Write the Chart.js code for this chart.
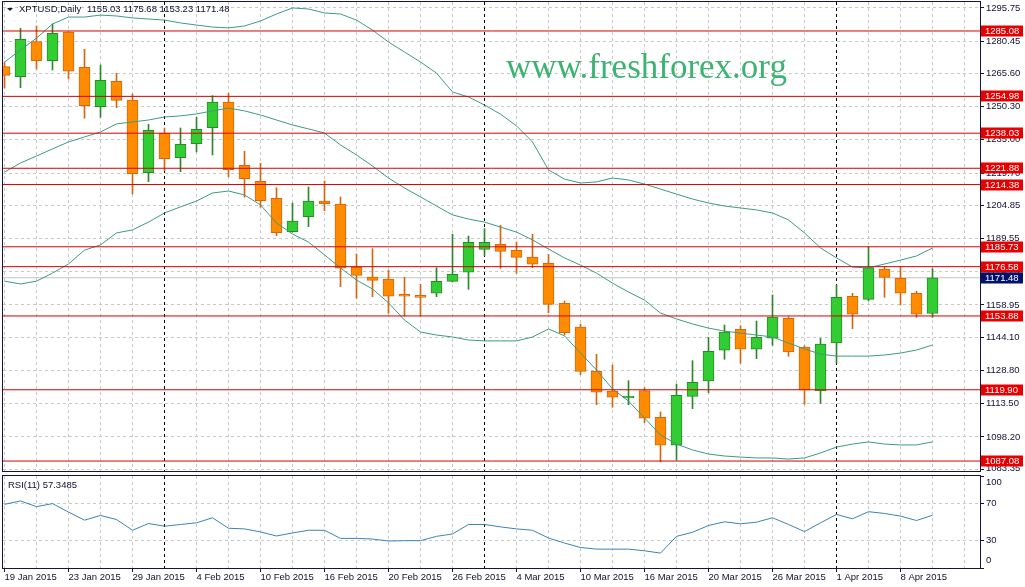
<!DOCTYPE html>
<html>
<head>
<meta charset="utf-8">
<script src="https://cdn.jsdelivr.net/npm/chart.js@4.4.0/dist/chart.umd.min.js"></script>
<style>
    html, body { margin: 0; padding: 0; background: #fff; }
    #wrap { position: relative; width: 1025px; height: 587px; overflow: hidden; background: #fff; }
    #main { position: absolute; left: 0; top: 0; }
    #rsi { position: absolute; left: 0; top: 472px; }
</style>
</head>
<body>
<div id="wrap">
    <canvas id="main" width="1025" height="472"></canvas>
    <canvas id="rsi" width="1025" height="115"></canvas>
</div>
<script>
// XPTUSD daily bars
const dates = ['19 Jan 2015','20 Jan 2015','21 Jan 2015','22 Jan 2015','23 Jan 2015','26 Jan 2015','27 Jan 2015','28 Jan 2015','29 Jan 2015','30 Jan 2015',
    '2 Feb 2015','3 Feb 2015','4 Feb 2015','5 Feb 2015','6 Feb 2015','9 Feb 2015','10 Feb 2015','11 Feb 2015','12 Feb 2015','13 Feb 2015',
    '16 Feb 2015','17 Feb 2015','18 Feb 2015','19 Feb 2015','20 Feb 2015','23 Feb 2015','24 Feb 2015','25 Feb 2015','26 Feb 2015','27 Feb 2015',
    '2 Mar 2015','3 Mar 2015','4 Mar 2015','5 Mar 2015','6 Mar 2015','9 Mar 2015','10 Mar 2015','11 Mar 2015','12 Mar 2015','13 Mar 2015',
    '16 Mar 2015','17 Mar 2015','18 Mar 2015','19 Mar 2015','20 Mar 2015','23 Mar 2015','24 Mar 2015','25 Mar 2015','26 Mar 2015','27 Mar 2015',
    '30 Mar 2015','31 Mar 2015','1 Apr 2015','2 Apr 2015','6 Apr 2015','7 Apr 2015','8 Apr 2015','9 Apr 2015','10 Apr 2015'];

const open = [1268.64,1264.04,1280.15,1271.41,1284.62,1268.37,1250.23,1261.92,1253.31,1219.84,
    1237.98,1226.75,1233.19,1240.56,1252.39,1223.25,1215.88,1208.05,1192.68,1199.58,
    1206.81,1205.43,1176.29,1171.82,1170.90,1163.40,1163.07,1164.32,1169.84,1173.99,
    1184.57,1186.88,1184.11,1181.03,1178.13,1159.71,1148.80,1128.40,1119.34,1116.12,
    1119.48,1107.23,1094.34,1116.89,1123.94,1138.08,1147.74,1138.54,1143.60,1152.81,
    1139.59,1119.34,1141.43,1162.94,1161.55,1175.50,1171.22,1164.32,1155.03];
const high = [1270.81,1286.32,1287.38,1288.30,1284.76,1276.65,1269.43,1265.61,1256.07,1242.13,
    1240.42,1240.42,1245.35,1255.29,1256.40,1229.69,1224.17,1212.94,1205.89,1213.26,
    1216.02,1208.65,1182.41,1184.85,1175.04,1171.68,1168.46,1176.10,1191.48,1190.70,
    1194.06,1195.63,1187.94,1191.48,1182.27,1160.77,1150.18,1136.23,1131.31,1124.08,
    1120.86,1109.67,1122.56,1133.28,1144.06,1149.72,1149.40,1151.56,1163.53,1153.54,
    1140.19,1143.60,1168.14,1164.32,1185.77,1176.56,1176.56,1165.24,1175.68];
const low = [1258.84,1258.98,1267.58,1267.12,1262.98,1244.89,1245.35,1249.77,1210.03,1215.70,
    1220.76,1220.30,1229.37,1227.99,1218.00,1208.52,1203.91,1190.84,1192.40,1194.98,
    1202.35,1167.36,1162.02,1162.76,1155.11,1153.87,1153.87,1162.76,1169.52,1166.16,
    1181.63,1175.83,1173.53,1176.10,1155.39,1145.12,1126.84,1113.03,1111.83,1113.03,
    1104.74,1086.78,1087.56,1111.19,1118.55,1133.93,1132.09,1134.21,1140.38,1135.31,
    1113.21,1113.67,1132.09,1148.02,1160.77,1162.47,1158.93,1153.27,1153.23];
const close = [1264.68,1281.26,1271.41,1284.02,1266.53,1250.69,1262.38,1253.17,1219.38,1239.36,
    1226.29,1232.92,1239.82,1252.39,1221.22,1217.08,1206.95,1192.22,1197.60,1206.81,
    1205.57,1175.83,1172.60,1170.30,1162.94,1162.94,1162.47,1169.84,1173.06,1187.80,
    1187.80,1183.65,1180.89,1177.67,1159.25,1146.18,1128.40,1118.74,1116.44,1117.03,
    1106.77,1094.34,1117.36,1123.34,1137.61,1146.50,1138.54,1144.06,1153.41,1137.29,
    1119.80,1140.97,1162.47,1154.65,1176.10,1171.68,1164.32,1154.65,1171.48];

// Bollinger bands
const bbUpper = [1270.8,1276.3,1281.8,1288.3,1291.5,1291.5,1292.4,1292.0,1291.1,1290.6,
    1290.1,1288.8,1287.8,1286.9,1286.5,1287.4,1289.7,1292.9,1295.7,1295.2,
    1293.4,1292.9,1290.1,1285.5,1280.0,1275.4,1270.8,1265.7,1257.0,1254.7,
    1251.0,1246.8,1241.4,1234.0,1221.1,1216.9,1215.1,1215.6,1217.4,1216.5,
    1214.6,1212.3,1210.0,1207.7,1205.9,1204.5,1203.6,1202.7,1201.3,1198.1,
    1192.1,1185.2,1180.6,1176.4,1176.0,1177.8,1179.6,1181.5,1185.2];
const bbMiddle = [1220.1,1224.3,1227.5,1230.8,1234.0,1236.3,1238.6,1242.3,1243.2,1244.1,
    1245.5,1246.0,1246.9,1248.3,1249.6,1248.3,1246.4,1244.1,1241.8,1240.0,
    1238.1,1232.6,1228.0,1222.9,1217.4,1212.8,1208.7,1204.5,1200.4,1198.5,
    1197.1,1194.8,1192.5,1188.9,1184.7,1180.6,1177.3,1173.6,1169.0,1164.9,
    1161.2,1155.2,1152.5,1150.2,1148.3,1146.9,1146.0,1145.1,1144.2,1141.4,
    1138.7,1136.3,1135.4,1135.4,1135.4,1135.9,1136.8,1138.2,1140.5];
const bbLower = [1169.9,1168.6,1169.9,1173.6,1177.8,1184.2,1186.6,1192.1,1193.5,1197.1,
    1201.3,1204.1,1206.8,1210.5,1211.4,1209.6,1205.0,1196.7,1191.6,1187.9,
    1182.0,1176.0,1170.4,1166.3,1159.9,1152.0,1146.5,1145.1,1144.2,1142.8,
    1142.4,1142.4,1142.4,1144.2,1147.9,1144.7,1136.8,1129.0,1120.3,1114.7,
    1106.9,1099.1,1094.9,1092.2,1090.3,1089.4,1088.9,1088.5,1088.5,1088.0,
    1088.5,1090.8,1093.5,1094.9,1095.9,1094.9,1094.5,1094.5,1095.9];

// RSI(11)
const rsi = [69.2,72.9,66.7,70.0,60.8,52.0,57.1,52.7,41.0,48.4,
    45.4,47.3,49.1,54.6,43.2,42.5,39.2,34.8,38.1,41.0,
    41.0,32.2,32.2,31.5,29.3,29.7,29.7,34.4,37.0,47.3,
    47.3,44.7,42.5,41.0,32.6,27.1,22.3,20.5,20.5,20.5,
    18.7,16.2,34.4,38.8,46.2,50.2,48.0,49.8,54.6,47.3,
    39.6,49.1,58.2,53.5,61.2,59.3,56.4,51.6,57.35];
const rsiLast = 57.3485;

// horizontal levels and axis ticks
const levels = [1285.08, 1254.98, 1238.03, 1221.88, 1214.38, 1185.73, 1176.58, 1153.88, 1119.90, 1087.08];
const priceTicks = [1295.75, 1280.45, 1265.60, 1250.30, 1235.00, 1219.70, 1204.85, 1189.55, 1174.25, 1158.95, 1144.10, 1128.80, 1113.50, 1098.20, 1083.35];
const rsiTicks = [100, 70, 30, 0];

const Y_MIN = 1082.50, Y_MAX = 1298.43;
const X_MIN = -0.09375, X_MAX = 60.96875;

const GREEN = '#32cd32', GREEN_EDGE = '#2a8a2a';
const ORANGE = '#ff8c00', ORANGE_EDGE = '#d9650f';
const BAND = '#3c9c80';
const LEVEL = '#d40000';
const FRAME = '#14143c';
const TEXT = '#101030';
const FONT = "'Liberation Sans', Arial, sans-serif";

const lastClose = close[close.length - 1];
const isUp = i => close[i] >= open[i];

// month separators
const sepIdx = [];
dates.forEach((d, i) => {
    if (i > 0 && d.split(' ')[1] !== dates[i - 1].split(' ')[1]) sepIdx.push(i);
});
const gridTicks = [];
for (let i = 0; i <= 60; i += 2) gridTicks.push(i);

function xScale(showLabels) {
    return {
        type: 'linear',
        min: X_MIN,
        max: X_MAX,
        offset: false,
        afterBuildTicks: s => { s.ticks = gridTicks.map(v => ({ value: v })); },
        afterFit: s => { s.height = showLabels ? 19 : 0; },
        grid: {
            offset: false,
            color: c => sepIdx.includes(c.tick.value) ? '#000000' : '#c9c9c9',
            lineWidth: 1,
            drawTicks: showLabels,
            tickLength: 4,
            tickColor: c => (c.tick.value % 4 === 0 && dates[c.tick.value]) ? FRAME : 'rgba(0,0,0,0)'
        },
        border: { display: false, dash: [3, 3] },
        ticks: {
            display: showLabels,
            autoSkip: false,
            maxRotation: 0,
            minRotation: 0,
            align: 'start',
            padding: 0,
            color: TEXT,
            font: { family: FONT, size: 9.5 },
            callback: v => (v % 4 === 0 && dates[v]) ? dates[v] : ''
        }
    };
}

function yLabels(chart, ticks, fmt, inset) {
    const { ctx, chartArea, scales } = chart;
    ctx.save();
    ctx.fillStyle = TEXT;
    ctx.font = '9.5px ' + FONT;
    ctx.textAlign = 'left';
    ctx.textBaseline = 'middle';
    ticks.forEach(v => {
        let py = scales.y.getPixelForValue(v);
        py = Math.max(chartArea.top + 6, Math.min(chartArea.bottom - inset, py));
        ctx.fillText(fmt(v), 986, py);
    });
    ctx.restore();
}

function frame(chart) {
    const { ctx, chartArea } = chart;
    ctx.save();
    ctx.strokeStyle = FRAME;
    ctx.lineWidth = 1;
    ctx.strokeRect(chartArea.left - 0.5, chartArea.top - 0.5, chartArea.right - chartArea.left + 1, chartArea.bottom - chartArea.top + 1);
    ctx.restore();
}

const mainDecor = {
    id: 'mainDecor',
    beforeDatasetsDraw(chart) {
        const { ctx } = chart;
        ctx.save();
        ctx.fillStyle = '#3cb371';
        ctx.font = "35px 'Liberation Serif', 'Times New Roman', serif";
        ctx.textBaseline = 'alphabetic';
        ctx.fillText('www.freshforex.org', 506, 78);
        ctx.restore();
    },
    afterDraw(chart) {
        const { ctx, scales } = chart;
        frame(chart);
        yLabels(chart, priceTicks, v => v.toFixed(2), 3);

        // level tags
        ctx.save();
        ctx.font = '9.5px ' + FONT;
        ctx.textAlign = 'left';
        ctx.textBaseline = 'middle';
        levels.forEach(v => {
            const py = Math.round(scales.y.getPixelForValue(v));
            ctx.fillStyle = '#e80000';
            ctx.fillRect(981, py - 5.5, 42, 11);
            ctx.fillStyle = '#ffffff';
            ctx.fillText(v.toFixed(2), 985, py + 0.5);
        });
        const pb = Math.round(scales.y.getPixelForValue(lastClose));
        ctx.fillStyle = '#00106e';
        ctx.fillRect(981, pb - 5.5, 42, 11);
        ctx.fillStyle = '#ffffff';
        ctx.fillText(lastClose.toFixed(2), 985, pb + 0.5);

        // title
        ctx.fillStyle = '#101050';
        ctx.beginPath();
        ctx.moveTo(7, 8);
        ctx.lineTo(13, 8);
        ctx.lineTo(10, 11);
        ctx.closePath();
        ctx.fill();
        ctx.fillStyle = TEXT;
        ctx.font = '9.5px ' + FONT;
        ctx.fillText('XPTUSD,Daily', 19, 9.5);
        ctx.fillText([open, high, low, close].map(a => a[a.length - 1].toFixed(2)).join(' '), 87, 9.5);
        ctx.restore();
    }
};

const pts = arr => arr.map((v, i) => ({ x: i, y: v }));

const mainDatasets = [
    {
        type: 'line', label: 'bid',
        data: [{ x: X_MIN, y: lastClose }, { x: X_MAX, y: lastClose }],
        borderColor: '#c4c4c4', borderWidth: 1, pointRadius: 0, order: 9
    },
    {
        type: 'bar', label: 'wick',
        data: dates.map((d, i) => ({ x: i, y: [low[i], high[i]] })),
        backgroundColor: c => isUp(c.dataIndex) ? GREEN_EDGE : ORANGE_EDGE,
        borderWidth: 0, barThickness: 1, grouped: false, order: 8
    },
    {
        type: 'bar', label: 'body',
        data: dates.map((d, i) => ({ x: i, y: [open[i], close[i]] })),
        backgroundColor: c => isUp(c.dataIndex) ? GREEN : ORANGE,
        borderColor: c => isUp(c.dataIndex) ? GREEN_EDGE : ORANGE_EDGE,
        borderWidth: 1, borderSkipped: false, barThickness: 11, minBarLength: 2,
        grouped: false, order: 7
    },
    { type: 'line', label: 'BB upper', data: pts(bbUpper), borderColor: BAND, borderWidth: 1, pointRadius: 0, order: 5 },
    { type: 'line', label: 'BB middle', data: pts(bbMiddle), borderColor: BAND, borderWidth: 1, pointRadius: 0, order: 5 },
    { type: 'line', label: 'BB lower', data: pts(bbLower), borderColor: BAND, borderWidth: 1, pointRadius: 0, order: 5 }
];
levels.forEach(v => {
    mainDatasets.push({
        type: 'line', label: 'level ' + v,
        data: [{ x: X_MIN, y: v }, { x: X_MAX, y: v }],
        borderColor: LEVEL, borderWidth: 1, pointRadius: 0, order: 1
    });
});

new Chart(document.getElementById('main'), {
    type: 'bar',
    data: { datasets: mainDatasets },
    options: {
        responsive: false,
        animation: false,
        events: [],
        layout: { padding: { left: 3, right: 0, top: 2, bottom: 1 } },
        plugins: { legend: { display: false }, tooltip: { enabled: false } },
        scales: {
            x: xScale(false),
            y: {
                type: 'linear',
                position: 'right',
                min: Y_MIN,
                max: Y_MAX,
                afterBuildTicks: s => { s.ticks = priceTicks.map(v => ({ value: v })); },
                afterFit: s => { s.width = 45; },
                grid: { color: '#c9c9c9', lineWidth: 1, drawTicks: true, tickLength: 4, tickColor: FRAME },
                border: { display: false, dash: [3, 3] },
                ticks: { display: false }
            }
        }
    },
    plugins: [mainDecor]
});

const rsiDecor = {
    id: 'rsiDecor',
    afterDraw(chart) {
        const { ctx } = chart;
        frame(chart);
        yLabels(chart, rsiTicks, v => String(v), 7.5);
        ctx.save();
        ctx.fillStyle = TEXT;
        ctx.font = '9.5px ' + FONT;
        ctx.textBaseline = 'middle';
        ctx.fillText('RSI(11) ' + rsiLast.toFixed(4), 8, 13.5);
        ctx.restore();
    }
};

new Chart(document.getElementById('rsi'), {
    type: 'line',
    data: {
        datasets: [{
            label: 'RSI(11)', data: pts(rsi),
            borderColor: '#3b84b2', borderWidth: 1, pointRadius: 0
        }]
    },
    options: {
        responsive: false,
        animation: false,
        events: [],
        layout: { padding: { left: 3, right: 0, top: 4, bottom: 0 } },
        plugins: { legend: { display: false }, tooltip: { enabled: false } },
        scales: {
            x: xScale(true),
            y: {
                type: 'linear',
                position: 'right',
                min: 0,
                max: 100,
                afterBuildTicks: s => { s.ticks = rsiTicks.map(v => ({ value: v })); },
                afterFit: s => { s.width = 45; },
                grid: {
                    color: c => (c.tick.value === 30 || c.tick.value === 70) ? '#c9c9c9' : 'rgba(0,0,0,0)',
                    lineWidth: 1, drawTicks: true, tickLength: 4, tickColor: FRAME
                },
                border: { display: false, dash: [3, 3] },
                ticks: { display: false }
            }
        }
    },
    plugins: [rsiDecor]
});
</script>
</body>
</html>
